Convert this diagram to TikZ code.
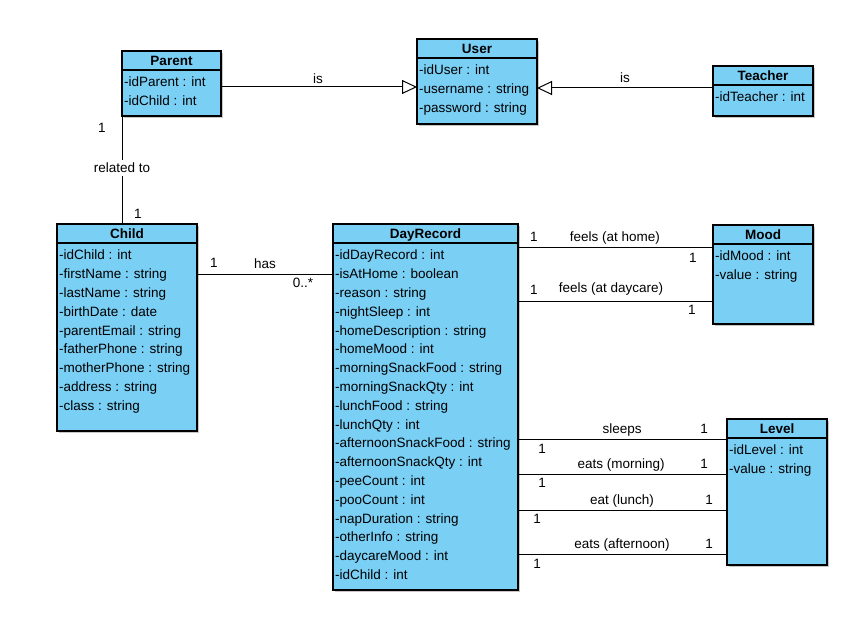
\documentclass[tikz,border=0pt]{standalone}
\usepackage{fontspec}
\setmainfont{Liberation Sans}
\usetikzlibrary{calc,arrows.meta}

\definecolor{classfill}{RGB}{122,207,245}
\definecolor{shadowc}{RGB}{200,200,200}

% class box: name, left x, top y, width, height, title, attribute list
\newcommand\umlclass[7]{%
  \fill[shadowc] (#2+2,#3+2) rectangle ++(#4,#5);
  \node[classbox, minimum width=#4pt, minimum height=#5pt] (#1) at (#2,#3) {};
  \draw[boxline] ([yshift=-19pt]#1.north west) -- ([yshift=-19pt]#1.north east);
  \node[classtitle] (#1-title) at ([yshift=-14.3pt]#1.north) {#6};
  \foreach [count=\i] \a in {#7}
    \node[attr] (#1-a\i) at ([xshift=2pt, yshift={-35.8pt-18.8pt*(\i-1)}]#1.north west) {\a};
}

\begin{document}
\begin{tikzpicture}[x=1pt, y=-1pt,
  every node/.style={font=\fontsize{13.5}{16}\selectfont},
  classbox/.style={draw, line width=1.2pt, fill=classfill, anchor=north west,
    inner sep=0pt, outer sep=0pt},
  boxline/.style={line width=1.2pt},
  classtitle/.style={anchor=base, inner sep=0pt, font=\fontsize{13.5}{16}\selectfont\bfseries},
  attr/.style={anchor=base west, inner sep=0pt},
  conn/.style={line width=1pt},
  gen/.style={conn, -{Triangle[open, length=15pt, width=14pt]}},
  lbl/.style={anchor=base, inner sep=0pt}]

\fill[white] (0,0) rectangle (861,628);
\useasboundingbox (0,0) rectangle (861,628);

\umlclass{parent}{122}{51}{99}{65}{Parent}{-idParent : int, -idChild : int}
\umlclass{user}{417}{39}{120}{85}{User}{-idUser : int, -username : string, -password : string}
\umlclass{teacher}{713}{66}{100}{50}{Teacher}{-idTeacher : int}
\umlclass{child}{57}{224}{140}{207}{Child}{-idChild : int, -firstName : string,
  -lastName : string, -birthDate : date, -parentEmail : string, -fatherPhone : string,
  -motherPhone : string, -address : string, -class : string}
\umlclass{dayrecord}{333}{224}{185}{366}{DayRecord}{-idDayRecord : int,
  -isAtHome : boolean, -reason : string, -nightSleep : int,
  -homeDescription : string, -homeMood : int, -morningSnackFood : string,
  -morningSnackQty : int, -lunchFood : string, -lunchQty : int,
  -afternoonSnackFood : string, -afternoonSnackQty : int, -peeCount : int,
  -pooCount : int, -napDuration : string, -otherInfo : string,
  -daycareMood : int, -idChild : int}
\umlclass{mood}{713}{225}{100}{99}{Mood}{-idMood : int, -value : string}
\umlclass{level}{727}{419}{100}{146}{Level}{-idLevel : int, -value : string}

% generalisations
\coordinate (pu) at ($(parent.north east)+(0,36)$);
\draw[gen] (pu) -- (pu -| user.west)
  node[lbl, pos=0.495, yshift=3.2pt] {is};
\coordinate (tu) at ($(teacher.north west)+(0,22)$);
\draw[gen] (tu) -- (tu -| user.east)
  node[lbl, pos=0.5, yshift=5.2pt] {is};

% Parent -- Child
\draw[conn] (parent.south west) -- (parent.south west |- child.north)
  node[pos=0.156, lbl, xshift=-20pt] {1}
  node[pos=0.952, lbl, xshift=16pt] {1}
  node[pos=0.48, fill=white, inner sep=3pt] {related to};

% Child -- DayRecord
\coordinate (cd) at ($(child.north east)+(0,50)$);
\draw[conn] (cd) -- (cd -| dayrecord.west)
  node[lbl, pos=0.125, yshift=6.2pt] {1}
  node[lbl, pos=0.5, yshift=5.2pt] {has}
  node[lbl, pos=0.78, yshift=-13.8pt] {0..*};

% DayRecord -- Mood
\coordinate (dm1) at ($(dayrecord.north east)+(0,23)$);
\draw[conn] (dm1) -- (dm1 -| mood.west)
  node[lbl, pos=0.082, yshift=5.2pt] {1}
  node[lbl, pos=0.497, yshift=5.2pt] {feels (at home)}
  node[lbl, pos=0.897, yshift=-15.8pt] {1};
\coordinate (dm2) at ($(dayrecord.north east)+(0,77)$);
\draw[conn] (dm2) -- (dm2 -| mood.west)
  node[lbl, pos=0.082, yshift=6.2pt] {1}
  node[lbl, pos=0.477, yshift=8.2pt] {feels (at daycare)}
  node[lbl, pos=0.892, yshift=-13.8pt] {1};

% DayRecord -- Level
\coordinate (dl1) at ($(dayrecord.north east)+(0,215)$);
\draw[conn] (dl1) -- (dl1 -| level.west)
  node[lbl, pos=0.115, yshift=-14.8pt] {1}
  node[lbl, pos=0.498, yshift=5.2pt] {sleeps}
  node[lbl, pos=0.89, yshift=5.2pt] {1};
\coordinate (dl2) at ($(dayrecord.north east)+(0,250)$);
\draw[conn] (dl2) -- (dl2 -| level.west)
  node[lbl, pos=0.115, yshift=-13.8pt] {1}
  node[lbl, pos=0.493, yshift=5.2pt] {eats (morning)}
  node[lbl, pos=0.89, yshift=5.2pt] {1};
\coordinate (dl3) at ($(dayrecord.north east)+(0,286)$);
\draw[conn] (dl3) -- (dl3 -| level.west)
  node[lbl, pos=0.091, yshift=-13.8pt] {1}
  node[lbl, pos=0.498, yshift=5.2pt] {eat (lunch)}
  node[lbl, pos=0.914, yshift=5.2pt] {1};
\coordinate (dl4) at ($(dayrecord.north east)+(0,330)$);
\draw[conn] (dl4) -- (dl4 -| level.west)
  node[lbl, pos=0.091, yshift=-14.8pt] {1}
  node[lbl, pos=0.498, yshift=5.2pt] {eats (afternoon)}
  node[lbl, pos=0.914, yshift=5.2pt] {1};

\end{tikzpicture}
\end{document}
